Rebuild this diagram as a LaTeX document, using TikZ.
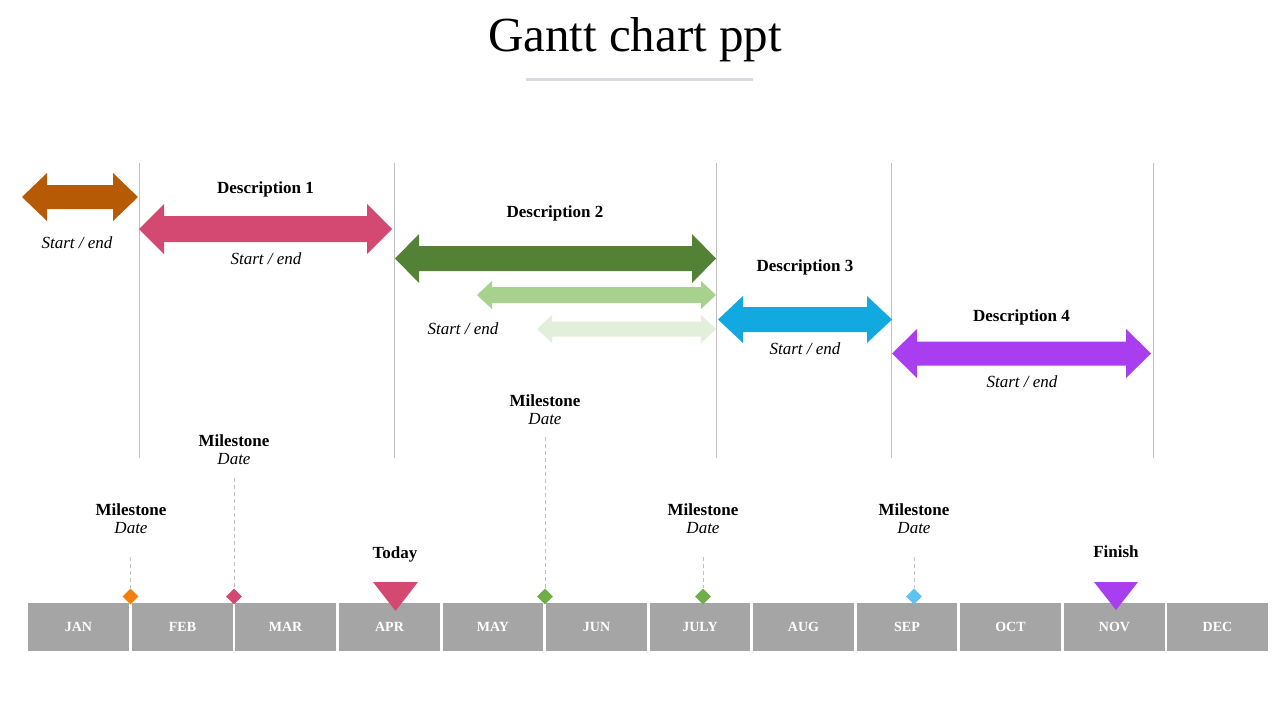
\documentclass[tikz,border=0pt]{standalone}
\usepackage{fontspec}
\setmainfont{Liberation Serif}
\usetikzlibrary{shapes.geometric}
\definecolor{cbrown}{HTML}{B65A06}
\definecolor{cpink}{HTML}{D44971}
\definecolor{cdgreen}{HTML}{538135}
\definecolor{clgreen}{HTML}{A9D18E}
\definecolor{cvlgreen}{HTML}{E2EFDA}
\definecolor{cblue}{HTML}{12A8E0}
\definecolor{cpurple}{HTML}{A93EF0}
\definecolor{corange}{HTML}{F27E0C}
\definecolor{cgreenm}{HTML}{70AD47}
\definecolor{cbluem}{HTML}{5BC4F1}
\definecolor{cbox}{HTML}{A5A5A5}
\definecolor{cvline}{HTML}{BFBFBF}
\definecolor{culine}{HTML}{D9D9DE}
% color, x1, x2, yc, shaft half, head half, head length
\newcommand{\garrow}[7]{%
  \fill[#1] (#2,#4) -- (#2+#7,#4-#6) -- (#2+#7,#4-#5) -- (#3-#7,#4-#5) -- (#3-#7,#4-#6)
    -- (#3,#4) -- (#3-#7,#4+#6) -- (#3-#7,#4+#5) -- (#2+#7,#4+#5) -- (#2+#7,#4+#6) -- cycle;}
\tikzset{
  desc/.style={font=\bfseries\fontsize{17}{19}\selectfont, anchor=base, inner sep=0pt},
  se/.style={font=\itshape\fontsize{17}{19}\selectfont, anchor=base, inner sep=0pt},
  mbox/.style={fill=cbox, minimum width=101pt, minimum height=48pt, inner sep=0pt,
     text=white, font=\bfseries\fontsize{14}{16}\selectfont},
  vline/.style={draw=cvline, line width=1pt},
  mdash/.style={draw=cvline, line width=0.8pt, dash pattern=on 4pt off 3pt},
  mdiam/.style={diamond, minimum size=16pt, inner sep=0pt},
}
\begin{document}
\begin{tikzpicture}[x=1pt, y=-1pt]
\useasboundingbox (0,0) rectangle (1280,720);
\fill[white] (0,0) rectangle (1280,720);
% title
\node[font=\fontsize{49}{55}\selectfont, anchor=base, inner sep=0pt] (title) at (635,51) {Gantt chart ppt};
\coordinate (ul1) at (526,79);
\coordinate (ul2) at (753,79);
\draw[culine, line width=3pt] (ul1) -- (ul2);
% vertical lines
\foreach \x/\n in {139/a,394/b,716/c,891/d,1153/e}{
  \coordinate (vt\n) at (\x,163);
  \coordinate (vb\n) at (\x,458);
  \draw[vline] (vt\n) -- (vb\n);
}
% arrows
\garrow{cbrown}{22}{138}{197}{12}{24}{25}
\garrow{cpink}{139}{392}{229}{13}{25}{25}
\garrow{cdgreen}{395}{716}{258.5}{12.5}{24.5}{24}
\garrow{clgreen}{477}{716}{295}{8}{14}{15}
\garrow{cvlgreen}{537}{716}{329}{7.5}{14}{15}
\garrow{cblue}{718}{892}{319.5}{12.5}{23.5}{25}
\garrow{cpurple}{892}{1151}{353.5}{12}{24.5}{25}
% arrow labels
\node[se] (s0) at (77,248) {Start / end};
\node[desc] (d1) at (265.5,193) {Description 1};
\node[se] (s1) at (266,264) {Start / end};
\node[desc] (d2) at (555,217) {Description 2};
\node[se] (s2) at (463,334) {Start / end};
\node[desc] (d3) at (805,271) {Description 3};
\node[se] (s3) at (805,354) {Start / end};
\node[desc] (d4) at (1021.5,321) {Description 4};
\node[se] (s4) at (1022,387) {Start / end};
% month boxes
\foreach \a/\b/\m/\n in {28/129/JAN/jan,132/233/FEB/feb,235/336/MAR/mar,339/440/APR/apr,
   443/543/MAY/may,546/647/JUN/jun,650/750/JULY/jul,753/854/AUG/aug,857/957/SEP/sep,
   960/1061/OCT/oct,1064/1165/NOV/nov,1167/1268/DEC/dec}{
  \node[mbox, minimum width={(\b-\a)*1pt}] (\n) at ({(\a+\b)/2},627) {\m};
}
% milestones
\node[desc] (m1) at (131,515) {Milestone};
\node[se] (m1d) at (131,533) {Date};
\coordinate (m1t) at (130.5,557);
\node[mdiam, fill=corange] (dm1) at (130.5,596.5) {};
\draw[mdash] (m1t) -- (dm1.north);

\node[desc] (m2) at (234,446) {Milestone};
\node[se] (m2d) at (234,464) {Date};
\coordinate (m2t) at (234,478);
\node[mdiam, fill=cpink] (dm2) at (234,596.5) {};
\draw[mdash] (m2t) -- (dm2.north);

\node[desc] (m3) at (545,406) {Milestone};
\node[se] (m3d) at (545,424) {Date};
\coordinate (m3t) at (545,437);
\node[mdiam, fill=cgreenm] (dm3) at (545,596.5) {};
\draw[mdash] (m3t) -- (dm3.north);

\node[desc] (m4) at (703,515) {Milestone};
\node[se] (m4d) at (703,533) {Date};
\coordinate (m4t) at (703,557);
\node[mdiam, fill=cgreenm] (dm4) at (703,596.5) {};
\draw[mdash] (m4t) -- (dm4.north);

\node[desc] (m5) at (914,515) {Milestone};
\node[se] (m5d) at (914,533) {Date};
\coordinate (m5t) at (914,557);
\node[mdiam, fill=cbluem] (dm5) at (914,596.5) {};
\draw[mdash] (m5t) -- (dm5.north);

% today / finish
\node[desc] (today) at (395,558) {Today};
\fill[cpink] (373,582) -- (418,582) -- (395.5,611) -- cycle;
\node[desc] (finish) at (1116,557) {Finish};
\fill[cpurple] (1094,582) -- (1138,582) -- (1116,610) -- cycle;
\end{tikzpicture}
\end{document}
